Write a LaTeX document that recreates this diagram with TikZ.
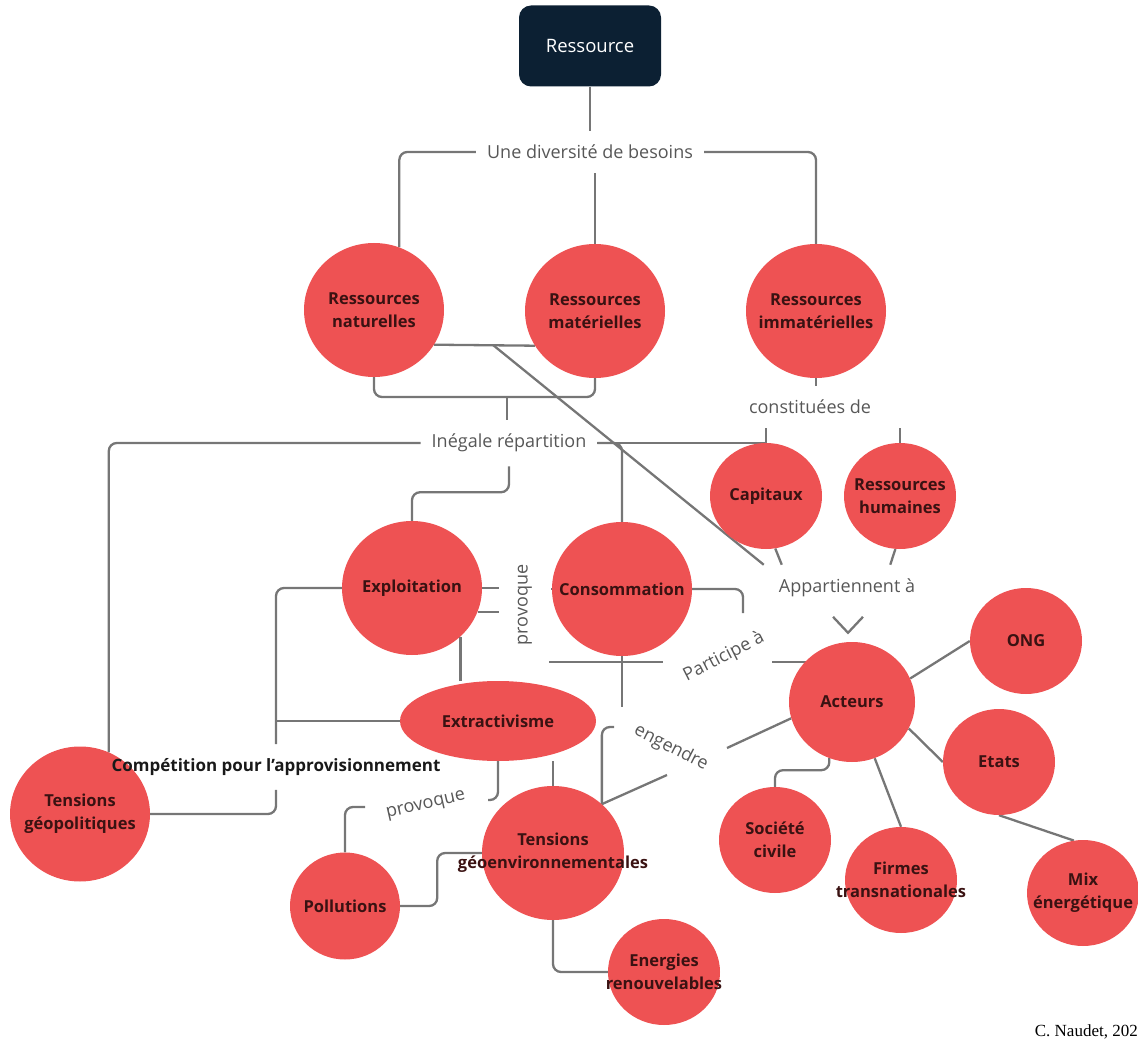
\documentclass[tikz,border=0pt]{standalone}
\usepackage{fontspec}
\setmainfont{Open Sans}
\newfontfamily\creditfont{Liberation Serif}
\usetikzlibrary{shapes.geometric, backgrounds, calc}
\definecolor{ballred}{HTML}{EE5253}
\definecolor{navy}{HTML}{0C2033}
\definecolor{wire}{HTML}{767676}
\definecolor{wording}{HTML}{575757}
\definecolor{ink}{HTML}{3A1212}
\newcommand{\zb}[1]{\makebox[0pt]{#1}}
\tikzset{
		ball/.style={ellipse, fill=ballred, text=ink, align=center, inner sep=0pt,
			font=\bfseries\fontsize{16.5}{23}\selectfont},
		bigball/.style={ball, minimum width=140pt, minimum height=134pt},
		smallball/.style={ball, minimum width=112pt, minimum height=106pt},
		lbl/.style={text=wording, inner xsep=11pt, inner ysep=14pt, font=\fontsize{18}{21}\selectfont},
		link/.style={draw=wire, line width=2.3pt, rounded corners=8pt}
	}
\begin{document}
\begin{tikzpicture}[x=1pt, y=-1pt] % one unit = one pixel, y going down
		\useasboundingbox (0,0) rectangle (1138,1040);
		% the resources
		\node[fill=navy, rounded corners=12pt, minimum width=142pt, minimum height=81pt,
			text=white, font=\fontsize{18.5}{21}\selectfont] (res) at (590,46) {Ressource};
		\node[lbl] (besoins) at (590,152) {Une diversité de besoins};
		\node[bigball] (nat) at (374,310) {\zb{Ressources}\\\zb{naturelles}};
		\node[bigball] (mat) at (595,311) {\zb{Ressources}\\\zb{matérielles}};
		\node[bigball] (imm) at (816,311) {\zb{Ressources}\\\zb{immatérielles}};
		\node[lbl] (constit) at (810,407) {constituées de};
		\node[lbl] (ineg) at (509,443) {Inégale répartition};
		\node[smallball] (cap) at (766,496) {\zb{Capitaux}};
		\node[smallball] (hum) at (900,496) {\zb{Ressources}\\\zb{humaines}};
		% uses
		\node[bigball] (exp) at (412,588) {\zb{Exploitation}};
		\node[bigball] (cons) at (622,589) {\zb{Consommation}};
		\node[lbl, rotate=90, inner ysep=19pt] (prov1) at (525,605) {provoque};
		\node[lbl] (appart) at (847,588) {Appartiennent à};
		\node[lbl, rotate=27] (partic) at (724,657) {Participe à};
		\node[ball, minimum width=196pt, minimum height=80pt] (extr) at (498,721) {\zb{Extractivisme}};
		\node[lbl, rotate=-27] (engen) at (671,748) {engendre};
		\node[lbl, rotate=13] (prov2) at (426,806) {provoque};
		% tensions
		\node[ball, minimum width=140pt, minimum height=135pt] (tgeop) at (80,814) {\zb{Tensions}\\\zb{géopolitiques}};
		\node[lbl, text=black!90, font=\bfseries\fontsize{17}{21}\selectfont] (compet) at (276,767) {Compétition pour l'approvisionnement};
		\node[bigball, minimum width=142pt] (tgeoenv) at (553,853) {\zb{Tensions}\\\zb{géoenvironnementales}};
		\node[ball, minimum width=110pt, minimum height=107pt] (poll) at (345,906) {\zb{Pollutions}};
		\node[smallball] (ener) at (664,972) {\zb{Energies}\\\zb{renouvelables}};
		% actors
		\node[ball, minimum width=126pt, minimum height=120pt] (act) at (852,702) {\zb{Acteurs}};
		\node[smallball] (ong) at (1026,641) {\zb{ONG}};
		\node[smallball] (etat) at (999,762) {\zb{Etats}};
		\node[smallball] (soc) at (775,840) {\zb{Société}\\\zb{civile}};
		\node[smallball] (firm) at (901,880) {\zb{Firmes}\\\zb{transnationales}};
		\node[smallball] (mix) at (1083,893) {\zb{Mix}\\\zb{énergétique}};
		\node[anchor=east, inner sep=0pt, font=\creditfont\fontsize{17}{19}\selectfont] (credit) at (1138,1032) {C. Naudet, 202};
		% free ends of the connectors
		\coordinate (brace) at (507,397);
		\coordinate (natmat) at (493,345);
		\coordinate (consend) at (743,613);
		\coordinate (partl) at (549,662);
		\coordinate (partr) at (663,662);
		\coordinate (partact) at (772,662);
		\coordinate (consdown) at (622,707);
		\coordinate (engtop) at (614,727);
		\coordinate (englow) at (667,775);
		\coordinate (enghigh) at (727,748);
		\coordinate (provr) at (488,800);
		\coordinate (provl) at (365,807);
		\begin{scope}[on background layer]
			\draw[link] (res) -- (besoins);
			\draw[link] (besoins.west) -| (nat.68);
			\draw[link] (besoins.east) -| (imm.north);
			\draw[link] (besoins.south -| mat.north) -- (mat.north);
			\draw[link] (nat.-30) -- (mat.-150);
			\draw[link] (natmat) -- ($(appart.north west)+(-4,0)$);
			\draw[link] (nat.south) |- (brace) -| (mat.south);
			\draw[link] (brace) -- (brace |- ineg.north);
			\draw[link] (imm.south) -- (imm.south |- constit.north);
			\draw[link] (constit.south -| cap.north) -- (cap.north);
			\draw[link] (constit.south -| hum.north) -- (hum.north);
			\draw[link] (ineg.east) -- (ineg.east -| cap.north);
			\draw[link] (ineg.east) -| (cons.north);
			\draw[link] (ineg.west) -| (tgeop.65);
			\draw[link] (ineg.south) -- ++(0,26) -| (exp.north);
			\draw[link] (cap.-80) -- ($(appart.north west)+(14,0)$);
			\draw[link] (hum.-95) -- ($(appart.north east)+(-36,0)$);
			\draw[link] (exp.west) -| (compet.north);
			\draw[link] (extr.west) -- (extr.west -| compet.north);
			\draw[link] (compet.south) |- (tgeop.east);
			\draw[link] (exp.-45) -- (exp.-45 |- extr.north);
			\draw[link] (exp.east) -- (exp.east -| prov1.north);
			\draw[link] (exp.-20) -- (exp.-20 -| prov1.north);
			\draw[link] (prov1.south |- cons.west) -- (cons.west);
			\draw[link] (cons.east) -| (consend);
			\draw[link] (partl) -- (partr);
			\draw[link] (partact) -- (partact -| act.center);
			\draw[link] (cons.south) -- (consdown);
			\draw[link] (tgeoenv.45) |- (engtop);
			\draw[link] (tgeoenv.45) -- (englow);
			\draw[link] (enghigh) -- (act.195);
			\draw[link, rounded corners=0pt] ($(act.north)+(-19,-25)$) -- ($(act.north)+(-4,-9)$) -- ($(act.north)+(11,-25)$); % the V above the actors
			\draw[link] (act.22) -- (ong.180);
			\draw[link] (act.-25) -- (etat.180);
			\draw[link] (act.-68) -- (firm.north);
			\draw[link] (act.-112) -- ++(0,12) -| (soc.north);
			\draw[link] (etat.south) -- (mix.100);
			\draw[link] (tgeoenv.north |- extr.south) -- (tgeoenv.north);
			\draw[link] (extr.south) |- (provr);
			\draw[link] (provl) -| (poll.north);
			\draw[link] (poll.east) -- ++(37,0) |- (tgeoenv.west);
			\draw[link] (tgeoenv.south) |- (ener.west);
		\end{scope}
	\end{tikzpicture}
\end{document}
